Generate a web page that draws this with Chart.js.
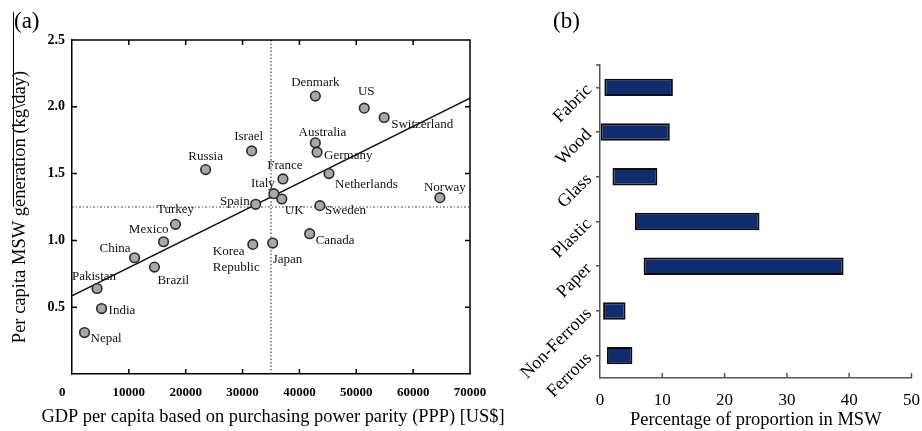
<!DOCTYPE html>
<html>
<head>
<meta charset="utf-8">
<script src="https://cdn.jsdelivr.net/npm/chart.js@4"></script>
<style>
  html, body { margin: 0; padding: 0; background: #fff; }
  #wrap { position: relative; width: 922px; height: 431px; overflow: hidden; }
  #chartA { position: absolute; left: 0; top: 0; }
  #chartB { position: absolute; left: 500px; top: 0; }
</style>
</head>
<body>
<div id="wrap">
  <canvas id="chartA" width="520" height="431"></canvas>
  <canvas id="chartB" width="432" height="431"></canvas>
</div>
<script>
// (a) MSW generation vs GDP
const countries = ['Nepal', 'India', 'Pakistan', 'China', 'Brazil', 'Mexico', 'Turkey', 'Russia',
    'Korea Republic', 'Spain', 'Israel', 'Japan', 'Italy', 'France', 'UK', 'Canada', 'Australia',
    'Germany', 'Denmark', 'Sweden', 'Netherlands', 'US', 'Switzerland', 'Norway'];
const gdp = [2200, 5200, 4400, 11000, 14500, 16100, 18200, 23500,
    31800, 32300, 31600, 35300, 35500, 37100, 36900, 41800, 42800,
    43100, 42800, 43600, 45200, 51400, 54900, 64700];
const msw = [0.31, 0.49, 0.64, 0.87, 0.80, 0.99, 1.12, 1.53,
    0.97, 1.27, 1.67, 0.98, 1.35, 1.46, 1.31, 1.05, 1.73,
    1.66, 2.08, 1.26, 1.50, 1.99, 1.92, 1.32];
const trendX = [0, 70000];
const trendY = [0.585, 2.065];
const gdpSplit = 35000;
const mswSplit = 1.25;
const gdpTicks = [0, 10000, 20000, 30000, 40000, 50000, 60000, 70000];
const mswTicks = [0, 0.5, 1.0, 1.5, 2.0, 2.5];
const gdpTitle = 'GDP per capita based on purchasing power parity (PPP) [US$]';

// (b) composition ranges
const materials = ['Fabric', 'Wood', 'Glass', 'Plastic', 'Paper', 'Non-Ferrous', 'Ferrous'];
const rangeLow = [0.7, 0.1, 2.0, 5.6, 7.0, 0.5, 1.1];
const rangeHigh = [11.7, 11.2, 9.2, 25.6, 39.1, 4.1, 5.2];
const pctTicks = [0, 10, 20, 30, 40, 50];

const SERIF = '"Liberation Serif", "Times New Roman", serif';

// label placement next to each marker: dx, dy, align
const labelPlace = {
    'Denmark': [0, -14, 'center'], 'US': [2, -17, 'center'], 'Switzerland': [7, 7, 'left'],
    'Australia': [7, -10, 'center'], 'Germany': [7, 3, 'left'], 'Netherlands': [6, 11, 'left'],
    'Norway': [5, -10, 'center'], 'France': [2, -13, 'center'], 'Italy': [1, -10, 'right'],
    'Israel': [-3, -14, 'center'], 'Russia': [0, -13, 'center'], 'Spain': [-6, -3, 'right'],
    'UK': [3, 12, 'left'], 'Sweden': [5, 5, 'left'], 'Canada': [6, 7, 'left'],
    'Japan': [0, 17, 'left'], 'Korea Republic': [-40, 7, 'left'], 'Turkey': [0, -15, 'center'],
    'Mexico': [5, -12, 'right'], 'China': [-4, -9, 'right'], 'Brazil': [3, 13, 'left'],
    'Pakistan': [-3, -12, 'center'], 'India': [7, 2, 'left'], 'Nepal': [6, 6, 'left']
};

const countryLabels = {
    id: 'countryLabels',
    afterDatasetsDraw(chart) {
        const ctx = chart.ctx;
        const meta = chart.getDatasetMeta(0);
        ctx.save();
        ctx.font = '13px ' + SERIF;
        ctx.fillStyle = '#111';
        ctx.textBaseline = 'middle';
        meta.data.forEach((pt, i) => {
            const name = countries[i];
            const p = labelPlace[name];
            ctx.textAlign = p[2];
            const lines = name === 'Korea Republic' ? ['Korea', 'Republic'] : [name];
            lines.forEach((t, k) => ctx.fillText(t, pt.x + p[0], pt.y + p[1] + k * 16));
        });
        ctx.restore();
    }
};

// box + inward ticks on all four sides, x title, panel letter
const frameA = {
    id: 'frameA',
    afterDraw(chart) {
        const ctx = chart.ctx;
        const a = chart.chartArea;
        const sx = chart.scales.x, sy = chart.scales.y;
        ctx.save();
        ctx.strokeStyle = '#000';
        ctx.lineWidth = 1.5;
        ctx.beginPath();
        ctx.moveTo(a.left, a.top); ctx.lineTo(a.right, a.top); ctx.lineTo(a.right, a.bottom);
        gdpTicks.slice(1, -1).forEach(v => {
            const x = sx.getPixelForValue(v);
            ctx.moveTo(x, a.bottom); ctx.lineTo(x, a.bottom - 5);
            ctx.moveTo(x, a.top); ctx.lineTo(x, a.top + 5);
        });
        mswTicks.slice(1, -1).forEach(v => {
            const y = sy.getPixelForValue(v);
            ctx.moveTo(a.left, y); ctx.lineTo(a.left + 5, y);
            ctx.moveTo(a.right, y); ctx.lineTo(a.right - 5, y);
        });
        ctx.stroke();
        // thin rule at the left edge of the figure
        ctx.lineWidth = 1;
        ctx.beginPath();
        ctx.moveTo(13.5, 12); ctx.lineTo(13.5, 207);
        ctx.stroke();
        ctx.fillStyle = '#000';
        ctx.textBaseline = 'middle';
        ctx.textAlign = 'center';
        ctx.font = '18.4px ' + SERIF;
        ctx.fillText(gdpTitle, (a.left + a.right) / 2 + 2, 417);
        ctx.font = '23px ' + SERIF;
        ctx.textAlign = 'left';
        ctx.fillText('(a)', 14, 22);
        ctx.restore();
    }
};

new Chart(document.getElementById('chartA'), {
    type: 'scatter',
    data: {
        datasets: [
            {
                data: gdp.map((g, i) => ({ x: g, y: msw[i] })),
                pointRadius: 4.8,
                backgroundColor: '#a8a8a8',
                borderColor: '#2a2a2a',
                borderWidth: 1.6
            },
            {
                type: 'line',
                data: trendX.map((g, i) => ({ x: g, y: trendY[i] })),
                borderColor: '#111',
                borderWidth: 1.4,
                pointRadius: 0
            },
            {
                type: 'line',
                data: [{ x: gdpSplit, y: 0 }, { x: gdpSplit, y: 2.5 }],
                borderColor: '#444',
                borderWidth: 1.2,
                borderDash: [1.5, 2],
                pointRadius: 0
            },
            {
                type: 'line',
                data: [{ x: 0, y: mswSplit }, { x: 70000, y: mswSplit }],
                borderColor: '#444',
                borderWidth: 1.2,
                borderDash: [2, 2, 1, 2],
                pointRadius: 0
            }
        ]
    },
    options: {
        responsive: false,
        animation: false,
        layout: { padding: { top: 40, right: 50, left: 0, bottom: 0 } },
        plugins: { legend: { display: false }, tooltip: { enabled: false } },
        scales: {
            x: {
                type: 'linear', min: 0, max: 70000,
                afterBuildTicks: s => { s.ticks = gdpTicks.map(v => ({ value: v })); },
                ticks: {
                    color: '#000', padding: 11, maxRotation: 0, autoSkip: false,
                    font: { family: SERIF, size: 13, weight: 'bold' },
                    callback: v => v === 0 ? '0      ' : String(v)
                },
                grid: { drawOnChartArea: false, drawTicks: false },
                border: { color: '#000', width: 1.5 },
                afterFit: s => { s.height = 57; }
            },
            y: {
                type: 'linear', min: 0, max: 2.5,
                afterBuildTicks: s => { s.ticks = mswTicks.map(v => ({ value: v })); },
                ticks: {
                    color: '#000', padding: 7,
                    font: { family: SERIF, size: 14, weight: 'bold' },
                    callback: v => v === 0 ? '' : v.toFixed(1)
                },
                grid: { drawOnChartArea: false, drawTicks: false },
                border: { color: '#000', width: 1.5 },
                title: {
                    display: true, text: 'Per capita MSW generation (kg\\day)',
                    color: '#000', font: { family: SERIF, size: 18.5 }, padding: { top: 9, bottom: 0 }
                },
                afterFit: s => { s.width = 72; }
            }
        }
    },
    plugins: [countryLabels, frameA]
});

const frameB = {
    id: 'frameB',
    afterDraw(chart) {
        const ctx = chart.ctx;
        const a = chart.chartArea;
        const sx = chart.scales.x;
        ctx.save();
        ctx.strokeStyle = '#555';
        ctx.lineWidth = 1.5;
        ctx.beginPath();
        pctTicks.slice(1).forEach(v => {
            const x = sx.getPixelForValue(v);
            ctx.moveTo(x, a.bottom); ctx.lineTo(x, a.bottom - 5);
        });
        ctx.moveTo(a.left, a.top); ctx.lineTo(a.left - 4, a.top);
        ctx.stroke();
        ctx.fillStyle = '#000';
        ctx.font = '23px ' + SERIF;
        ctx.textBaseline = 'middle';
        ctx.textAlign = 'left';
        ctx.fillText('(b)', 53, 22);
        ctx.restore();
    }
};

new Chart(document.getElementById('chartB'), {
    type: 'bar',
    data: {
        labels: materials,
        datasets: [{
            data: materials.map((m, i) => [rangeLow[i], rangeHigh[i]]),
            backgroundColor: '#112c6c',
            borderColor: '#0c0c0c',
            borderWidth: 2,
            borderSkipped: false,
            barPercentage: 0.39,
            categoryPercentage: 1
        }]
    },
    options: {
        indexAxis: 'y',
        responsive: false,
        animation: false,
        layout: { padding: { top: 65, right: 20, left: 0, bottom: 0 } },
        plugins: { legend: { display: false }, tooltip: { enabled: false } },
        scales: {
            x: {
                type: 'linear', min: 0, max: 50,
                afterBuildTicks: s => { s.ticks = pctTicks.map(v => ({ value: v })); },
                ticks: { color: '#000', padding: 12, maxRotation: 0, font: { family: SERIF, size: 17 } },
                grid: { drawOnChartArea: false, drawTicks: false },
                border: { color: '#555', width: 1.5 },
                title: {
                    display: true, text: 'Percentage of proportion in MSW', align: 'center',
                    color: '#000', font: { family: SERIF, size: 18.5 }, padding: { top: 0, bottom: 0 }
                },
                afterFit: s => { s.height = 53; }
            },
            y: {
                ticks: {
                    color: '#000', padding: 7, minRotation: 45, maxRotation: 45,
                    font: { family: SERIF, size: 18 }
                },
                grid: { offset: false, drawOnChartArea: false, drawTicks: true, tickLength: 4, color: '#555', lineWidth: 1.5 },
                border: { color: '#555', width: 1.5 },
                afterFit: s => { s.width = 100; }
            }
        }
    },
    plugins: [frameB]
});
</script>
</body>
</html>
